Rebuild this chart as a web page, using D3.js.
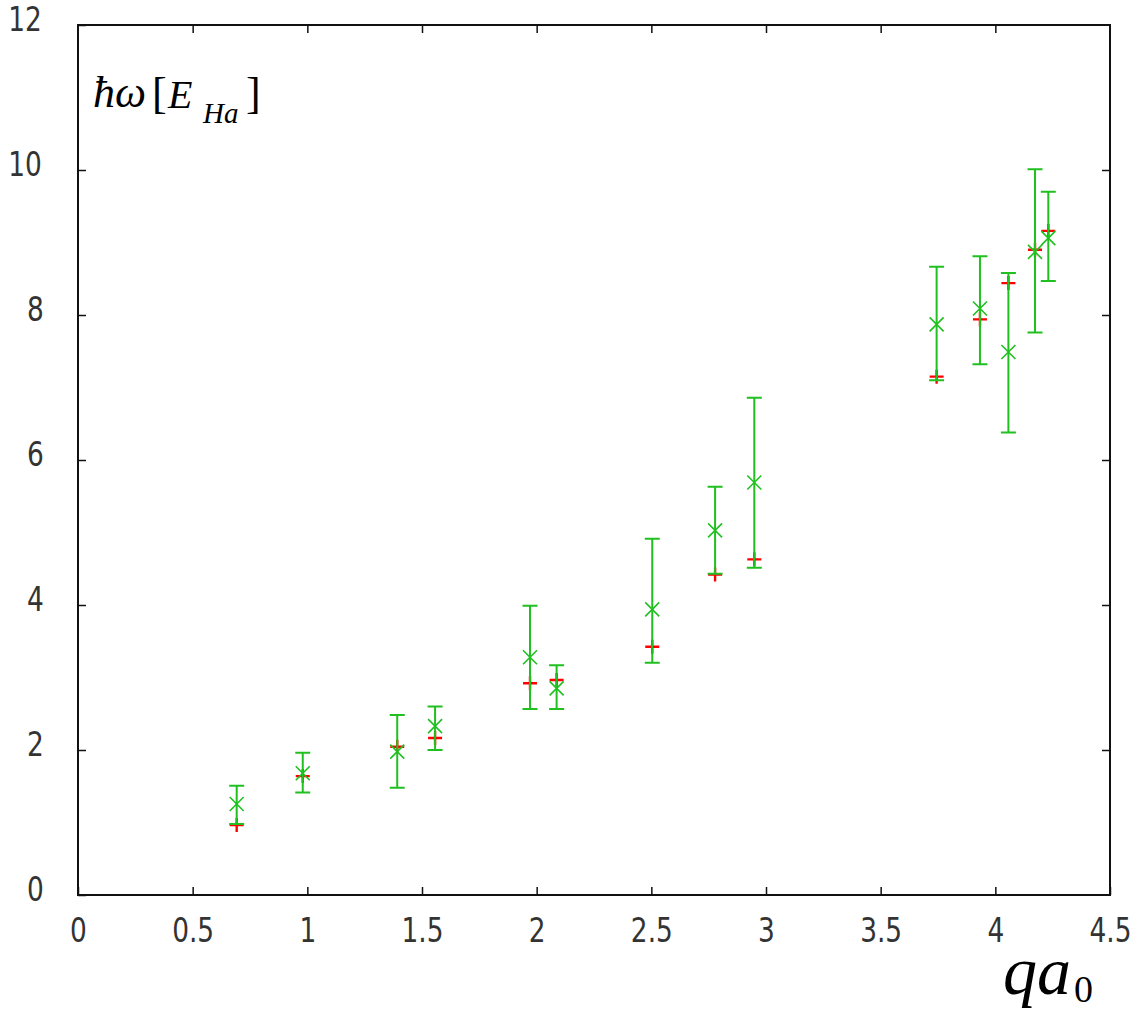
<!DOCTYPE html>
<html>
<head>
<meta charset="utf-8">
<script src="https://cdn.jsdelivr.net/npm/d3@7"></script>
<style>
  html, body { margin: 0; padding: 0; background: #fff; }
  svg { display: block; }
  .tick text { font-family: "DejaVu Sans", sans-serif; fill: #333; transform-box: fill-box; transform-origin: center; transform: scaleX(0.8); }
</style>
</head>
<body>
<svg id="chart" width="1136" height="1012"></svg>
<script>
// Data
const qValues     = [0.692, 0.98, 1.392, 1.557, 1.971, 2.087, 2.504, 2.778, 2.949, 3.744, 3.933, 4.057, 4.173, 4.231];
const greenValues = [1.255, 1.68, 1.977, 2.33, 3.28, 2.85, 3.94, 5.03, 5.69, 7.87, 8.09, 7.49, 8.87, 9.06];
const greenLow    = [0.979, 1.415, 1.48, 2.0, 2.566, 2.566, 3.204, 4.43, 4.515, 7.10, 7.32, 6.38, 7.76, 8.47];
const greenHigh   = [1.507, 1.963, 2.483, 2.6, 3.99, 3.17, 4.915, 5.63, 6.86, 8.666, 8.81, 8.58, 10.01, 9.70];
const redValues   = [0.966, 1.64, 2.045, 2.165, 2.92, 2.966, 3.425, 4.42, 4.63, 7.15, 7.94, 8.44, 8.9, 9.16];
const xTicks = [0, 0.5, 1, 1.5, 2, 2.5, 3, 3.5, 4, 4.5];
const yTicks = [0, 2, 4, 6, 8, 10, 12];

const svg = d3.select("#chart");
const L = 78, R = 1110, T = 25, B = 895;
const x = d3.scaleLinear().domain([0, 4.5]).range([L, R]);
const y = d3.scaleLinear().domain([0, 12]).range([B, T]);

const green = "#20c020", red = "#ff0000";

function styleAxis(g, labels) {
  g.select(".domain").remove();
  g.selectAll(".tick line").attr("stroke", "#111").attr("stroke-width", 1.5);
  if (!labels) g.selectAll(".tick text").remove();
  else g.selectAll(".tick text").attr("font-size", 33);
}

const fmt = d => String(d);
svg.append("g").attr("transform", `translate(0,${B})`)
  .call(d3.axisBottom(x).tickValues(xTicks).tickSize(-8).tickPadding(23.6).tickFormat(fmt))
  .call(g => styleAxis(g, true));
svg.append("g").attr("transform", `translate(0,${T})`)
  .call(d3.axisTop(x).tickValues(xTicks.slice(1, -1)).tickSize(-8).tickFormat(""))
  .call(g => styleAxis(g, false));
svg.append("g").attr("transform", `translate(${L},0)`)
  .call(d3.axisLeft(y).tickValues(yTicks).tickSize(-8).tickPadding(32).tickFormat(fmt))
  .call(g => { styleAxis(g, true); g.selectAll(".tick text").attr("dy", "0.17em"); });
svg.append("g").attr("transform", `translate(${R},0)`)
  .call(d3.axisRight(y).tickValues(yTicks.slice(1, -1)).tickSize(-8).tickFormat(""))
  .call(g => styleAxis(g, false));

// frame
svg.append("rect").attr("x", L).attr("y", T).attr("width", R - L).attr("height", B - T)
  .attr("fill", "none").attr("stroke", "#111").attr("stroke-width", 2);

const data = qValues.map((q, i) => ({ q, g: greenValues[i], lo: greenLow[i], hi: greenHigh[i], r: redValues[i] }));

// red + markers (drawn first)
const rs = 7;
svg.append("g").selectAll("path").data(data).join("path")
  .attr("d", d => {
    const cx = x(d.q), cy = y(d.r);
    return `M${cx - rs},${cy}H${cx + rs}M${cx},${cy - rs}V${cy + rs}`;
  })
  .attr("stroke", red).attr("stroke-width", 2.4).attr("fill", "none");

// green error bars
const cw = 7.5;
svg.append("g").selectAll("path").data(data).join("path")
  .attr("d", d => {
    const cx = x(d.q), y0 = y(d.lo), y1 = y(d.hi);
    return `M${cx},${y0}V${y1}M${cx - cw},${y0}H${cx + cw}M${cx - cw},${y1}H${cx + cw}`;
  })
  .attr("stroke", green).attr("stroke-width", 2).attr("fill", "none");

// green x markers
const ms = 7;
svg.append("g").selectAll("path").data(data).join("path")
  .attr("d", d => {
    const cx = x(d.q), cy = y(d.g);
    return `M${cx - ms},${cy - ms}L${cx + ms},${cy + ms}M${cx - ms},${cy + ms}L${cx + ms},${cy - ms}`;
  })
  .attr("stroke", green).attr("stroke-width", 1.6).attr("fill", "none");

// axis labels
const serif = "'Liberation Serif', 'Times New Roman', serif";
const yl = svg.append("text")
  .attr("font-family", serif).attr("font-size", 44).attr("fill", "#000");
yl.append("tspan").attr("x", 93).attr("y", 107).attr("font-style", "italic").text("ħω");
yl.append("tspan").attr("x", 152).attr("y", 108).text("[");
yl.append("tspan").attr("x", 168).attr("y", 108).attr("font-style", "italic").attr("font-size", 40).text("E");
yl.append("tspan").attr("x", 203).attr("y", 123).attr("font-style", "italic").attr("font-size", 29).text("Ha");
yl.append("tspan").attr("x", 246).attr("y", 108).text("]");

const xl = svg.append("text")
  .attr("font-family", serif).attr("font-size", 68).attr("fill", "#000");
xl.append("tspan").attr("x", 1003).attr("y", 994).attr("font-style", "italic").text("qa");
xl.append("tspan").attr("x", 1074).attr("y", 1002).attr("font-size", 38).text("0");
</script>
</body>
</html>
